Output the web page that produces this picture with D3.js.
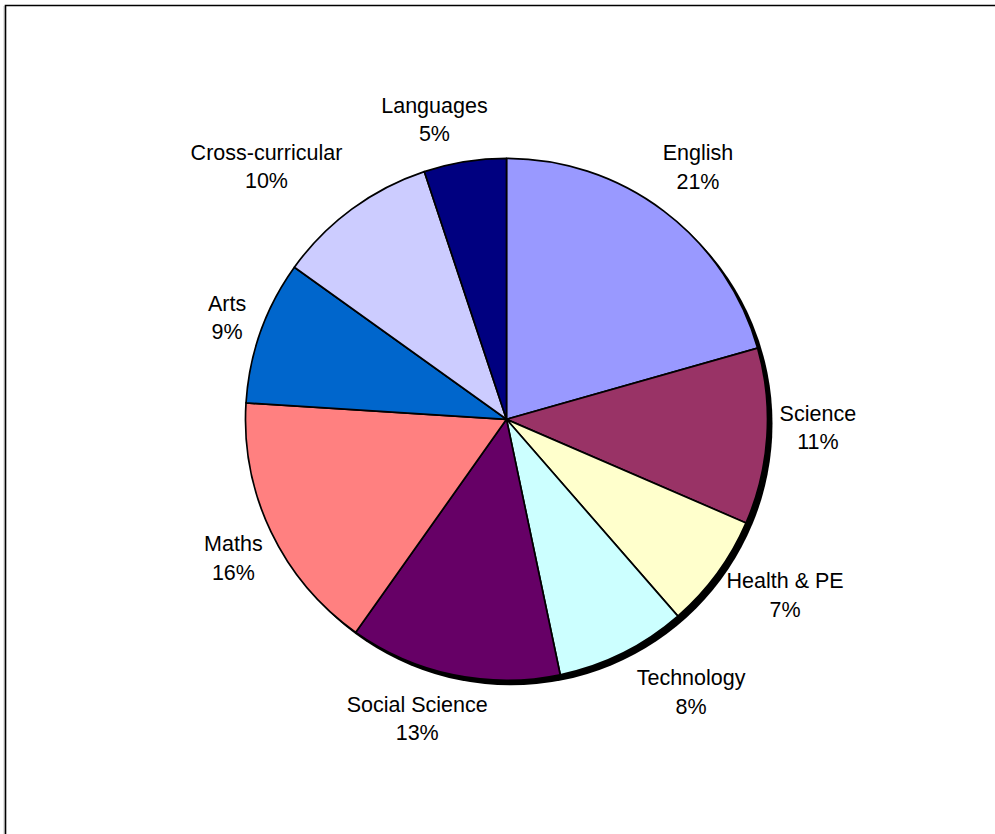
<!DOCTYPE html>
<html>
<head>
<meta charset="utf-8">
<script src="https://cdn.jsdelivr.net/npm/d3@7"></script>
<style>
  html, body { margin: 0; padding: 0; background: #fff; }
  svg { display: block; }
  text { font-family: "Liberation Sans", Arial, sans-serif; font-size: 21.5px; fill: #000; }
</style>
</head>
<body>
<svg id="chart" width="995" height="834"></svg>
<script>
// ---- data ----
const categories = ["English", "Science", "Health & PE", "Technology", "Social Science",
                    "Maths", "Arts", "Cross-curricular", "Languages"];
const values = [20.6, 10.9, 7.1, 8.1, 13.1, 16.2, 8.9, 10.0, 5.1];
const colors = ["#9999FF", "#993366", "#FFFFCC", "#CCFFFF", "#660066",
                "#FF8080", "#0066CC", "#CCCCFF", "#000080"];

// ---- layout ----
const W = 995, H = 834;
const cx = 506.5, cy = 419.3, R = 261;
const labelGap = 12, lineGap = 28.5, boxH = 44;
const labelNudge = {
  "English": [5.6, -17], "Science": [0.8, -11], "Health & PE": [11, 1.4],
  "Technology": [38.7, 8.4], "Social Science": [-19.6, 10.4], "Maths": [-0.4, 11.2],
  "Arts": [-4.3, -2.5], "Cross-curricular": [-33.2, -15], "Languages": [-20, -8.6]
};

const svg = d3.select("#chart");
svg.append("rect").attr("width", W).attr("height", H).attr("fill", "#fff");

// frame
svg.append("line").attr("x1", 4).attr("x2", 4).attr("y1", 6).attr("y2", H)
  .attr("stroke", "#c8c8c8").attr("stroke-width", 1);
svg.append("path").attr("d", `M5.5,${H} V5.5 H${W}`)
  .attr("fill", "none").attr("stroke", "#000").attr("stroke-width", 1.6);

const data = categories.map((c, i) => ({ name: c, value: values[i], color: colors[i] }));
const total = d3.sum(values);

const pie = d3.pie().sort(null).value(d => d.value).startAngle(0).endAngle(2 * Math.PI);
const arcs = pie(data);
const arc = d3.arc().innerRadius(0).outerRadius(R);

const g = svg.append("g").attr("transform", `translate(${cx},${cy})`);

// shadow
g.append("circle").attr("cx", 4.5).attr("cy", 4.5).attr("r", R + 0.5).attr("fill", "#000");

g.selectAll("path.slice").data(arcs).enter().append("path")
  .attr("class", "slice")
  .attr("d", arc)
  .attr("fill", d => d.data.color)
  .attr("stroke", "#000")
  .attr("stroke-width", 1.7)
  .attr("stroke-linejoin", "round");

// labels
const lbl = svg.append("g");
arcs.forEach(a => {
  const mid = (a.startAngle + a.endAngle) / 2;
  const dx = Math.sin(mid), dy = -Math.cos(mid);
  const t = lbl.append("text").attr("text-anchor", "middle");
  const t1 = t.append("tspan").text(a.data.name);
  const w = t.node().getComputedTextLength();
  const n = labelNudge[a.data.name] || [0, 0];
  const lx = cx + dx * (R + labelGap) + dx * w / 2 + n[0];
  const ly = cy + dy * (R + labelGap) + dy * boxH / 2 + n[1];
  t1.attr("x", lx).attr("y", ly - 6.75);
  t.append("tspan").attr("x", lx).attr("y", ly - 6.75 + lineGap)
    .text(Math.round(a.data.value / total * 100) + "%");
});
</script>
</body>
</html>
